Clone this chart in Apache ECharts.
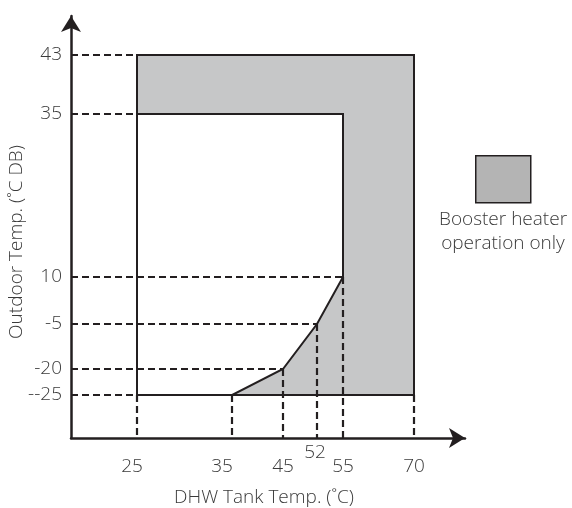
<!DOCTYPE html>
<html>
<head>
<meta charset="utf-8">
<script src="https://cdn.jsdelivr.net/npm/echarts@6/dist/echarts.min.js"></script>
<style>
  html, body { margin: 0; padding: 0; background: #ffffff; }
  #chart { width: 572px; height: 508px; }
</style>
</head>
<body>
<div id="chart"></div>
<script>
// ---------------- data ----------------
const X_TICK_TEMPS = [25, 35, 45, 52, 55, 70];                 // DHW tank temp ticks (°C)
const Y_TICK_TEMPS = [-25, -20, -5, 10, 35, 43];               // outdoor temp ticks (°C)
const Y_TICK_LABELS = ['--25', '-20', '-5', '10', '35', '43']; // printed tick labels

const TANK_RANGE = [25, 70];          // tank temperature range
const OUTDOOR_RANGE = [-25, 43];      // outdoor temperature range
const HEAT_PUMP_OUTDOOR_MAX = 35;     // top of the heat-pump (white) zone
const LIMIT_TANK = [35, 45, 52, 55];  // heat-pump limit curve: tank temps
const LIMIT_OUTDOOR = [-25, -20, -5, 10]; // heat-pump limit curve: outdoor temps

// dashed guide lines
const H_GUIDE_OUTDOOR = [43, 35, 10, -5, -20, -25];
const H_GUIDE_TANK = [25, 25, 55, 52, 45, 25];
const V_GUIDE_TANK = [25, 35, 45, 52, 55, 70];
const V_GUIDE_OUTDOOR = [-25, -25, -20, -5, 10, -25];

const LEGEND_NAME = 'Booster heater operation only';
const LEGEND_TEXT = 'Booster heater\noperation only';
const X_TITLE = 'DHW Tank Temp. (˚C)';
const Y_TITLE = 'Outdoor Temp. (˚C DB)';

// ---------------- schematic (broken) axis scales ----------------
// the diagram is not drawn to scale: each tick sits at its own slot along the axis
const X_SCALE = { temps: X_TICK_TEMPS, slots: [66, 161, 212, 246, 272, 343], max: 394 };
const Y_SCALE = { temps: Y_TICK_TEMPS, slots: [43, 69, 114, 161, 324, 383], max: 422 };

function makeScale(sc) {
  return function (t) {
    const T = sc.temps, S = sc.slots;
    let i = 0;
    while (i < T.length - 2 && t > T[i + 1]) i++;
    return S[i] + (t - T[i]) * (S[i + 1] - S[i]) / (T[i + 1] - T[i]);
  };
}
const sx = makeScale(X_SCALE);
const sy = makeScale(Y_SCALE);

// ---------------- derived geometry ----------------
const regionPts = [
  [TANK_RANGE[0], OUTDOOR_RANGE[1]],
  [TANK_RANGE[1], OUTDOOR_RANGE[1]],
  [TANK_RANGE[1], OUTDOOR_RANGE[0]]
].concat(LIMIT_TANK.map((t, i) => [t, LIMIT_OUTDOOR[i]]))
 .concat([[LIMIT_TANK[LIMIT_TANK.length - 1], HEAT_PUMP_OUTDOOR_MAX],
          [TANK_RANGE[0], HEAT_PUMP_OUTDOOR_MAX]])
 .map(p => [sx(p[0]), sy(p[1])]);

const whiteEdge = [
  [TANK_RANGE[0], HEAT_PUMP_OUTDOOR_MAX],
  [TANK_RANGE[0], OUTDOOR_RANGE[0]],
  [LIMIT_TANK[0], OUTDOOR_RANGE[0]]
].map(p => [sx(p[0]), sy(p[1])]);

const guides = [];
H_GUIDE_OUTDOOR.forEach((o, i) => guides.push([0, sy(o), sx(H_GUIDE_TANK[i]), sy(o)]));
V_GUIDE_TANK.forEach((t, i) => guides.push([sx(t), sy(V_GUIDE_OUTDOOR[i]), sx(t), 0]));

// ---------------- styles ----------------
const INK = '#231f20';
const TXT = '#3a3a3a';
const FONT = '"Open Sans", "Noto Sans", sans-serif';
const FS = 19;
const FW = 300;

const xMainTicks = X_TICK_TEMPS.filter(t => t !== 52);
const xRaisedTicks = [52];
const xNudge = { 25: 'n5', 35: 'n10' };
const baseRich = { fontSize: FS, fontFamily: FONT, color: TXT, fontWeight: FW };

function nearestIndex(arr, v) {
  let best = 0;
  arr.forEach((a, i) => { if (Math.abs(a - v) < Math.abs(arr[best] - v)) best = i; });
  return best;
}

const chart = echarts.init(document.getElementById('chart'), null, { renderer: 'canvas' });

const option = {
  animation: false,
  backgroundColor: '#ffffff',
  grid: { left: 71, right: 107, top: 16, bottom: 70, containLabel: false, outerBoundsMode: 'none' },
  legend: {
    data: [{ name: LEGEND_NAME, icon: 'rect',
             itemStyle: { color: '#b4b4b4', borderColor: INK, borderWidth: 1.5 } }],
    left: 475, top: 155, padding: 0,
    itemWidth: 55, itemHeight: 47,
    formatter: () => '',
    selectedMode: false
  },
  graphic: [{
    type: 'text', x: 503, y: 208,
    style: { text: LEGEND_TEXT, align: 'center', verticalAlign: 'top',
             fontSize: FS, fontFamily: FONT, fontWeight: FW, fill: TXT, lineHeight: 24 }
  }, {
    type: 'text', x: 17, y: 242, rotation: Math.PI / 2,
    style: { text: Y_TITLE, align: 'center', verticalAlign: 'middle',
             fontSize: FS, fontFamily: FONT, fontWeight: FW, fill: TXT }
  }],
  xAxis: [{
    type: 'value', min: 0, max: X_SCALE.max,
    name: X_TITLE, nameLocation: 'middle', nameGap: 50,
    nameTextStyle: { fontSize: FS, fontFamily: FONT, fontWeight: FW, color: TXT, padding: [0, 8, 0, 0] },
    axisLine: { show: true, symbol: ['none', 'arrow'], symbolSize: [15, 16],
                lineStyle: { color: INK, width: 2.5 } },
    axisTick: { show: false },
    splitLine: { show: false },
    axisLabel: {
      customValues: xMainTicks.map(sx),
      margin: 19,
      formatter: function (v) {
        const t = X_TICK_TEMPS[nearestIndex(X_TICK_TEMPS.map(sx), v)];
        const k = xNudge[t] || 'n0';
        return '{' + k + '|' + t + '}';
      },
      rich: {
        n0: Object.assign({}, baseRich),
        n5: Object.assign({ padding: [0, 10, 0, 0] }, baseRich),
        n10: Object.assign({ padding: [0, 20, 0, 0] }, baseRich)
      }
    }
  }, {
    type: 'value', min: 0, max: X_SCALE.max, position: 'bottom',
    axisLine: { show: false }, axisTick: { show: false }, splitLine: { show: false },
    axisLabel: {
      customValues: xRaisedTicks.map(sx),
      margin: 5,
      formatter: function (v) {
        const t = X_TICK_TEMPS[nearestIndex(X_TICK_TEMPS.map(sx), v)];
        return '{r|' + t + '}';
      },
      rich: { r: Object.assign({ padding: [0, 4, 0, 0] }, baseRich) }
    }
  }],
  yAxis: {
    type: 'value', min: 0, max: Y_SCALE.max,
    axisLine: { show: true, symbol: ['none', 'arrow'], symbolSize: [15, 16],
                lineStyle: { color: INK, width: 2.5 } },
    axisTick: { show: false },
    splitLine: { show: false },
    axisLabel: {
      customValues: Y_TICK_TEMPS.map(sy),
      margin: 9,
      fontSize: FS, fontFamily: FONT, fontWeight: FW, color: TXT,
      padding: [5, 0, 0, 0],
      formatter: function (v) {
        return Y_TICK_LABELS[nearestIndex(Y_TICK_TEMPS.map(sy), v)];
      }
    }
  },
  series: [{
    name: LEGEND_NAME,
    type: 'custom',
    z: 1,
    itemStyle: { color: '#c6c7c8' },
    encode: { x: 0, y: 1 },
    data: regionPts,
    renderItem: function (params, api) {
      if (params.dataIndex !== 0) return null;
      return {
        type: 'polygon',
        shape: { points: regionPts.map(p => api.coord(p)) },
        style: { fill: '#c6c7c8', stroke: INK, lineWidth: 2 }
      };
    }
  }, {
    name: 'guides',
    type: 'custom',
    z: 2,
    encode: { x: [0, 2], y: [1, 3] },
    data: guides,
    renderItem: function (params, api) {
      const a = api.coord([api.value(0), api.value(1)]);
      const b = api.coord([api.value(2), api.value(3)]);
      return {
        type: 'line',
        shape: { x1: a[0], y1: a[1], x2: b[0], y2: b[1] },
        style: { stroke: INK, lineWidth: 2.2, lineDash: [7, 4] }
      };
    }
  }, {
    name: 'heat pump zone edge',
    type: 'line',
    z: 3,
    data: whiteEdge,
    symbol: 'none',
    lineStyle: { color: INK, width: 2 }
  }]
};

chart.setOption(option);
</script>
</body>
</html>
